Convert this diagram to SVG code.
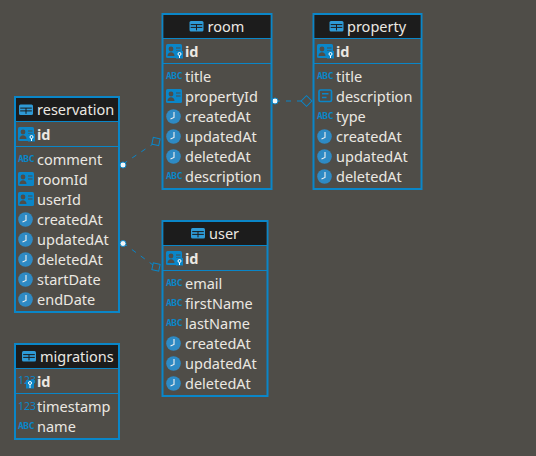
<svg xmlns="http://www.w3.org/2000/svg" xmlns:xlink="http://www.w3.org/1999/xlink" width="536" height="456" viewBox="0 0 536 456">
<style>
.box{fill:#4f4d48;stroke:#0a86c8;stroke-width:2}
.hd{fill:#1c1c1c}
.sep{stroke:#0a86c8;stroke-width:1;fill:none}
text{font-family:"Noto Sans","DejaVu Sans",sans-serif;font-size:14.5px;fill:#ebe8e2}
.b{font-weight:700}
.conn{stroke:#0a86c8;stroke-width:1;stroke-dasharray:5 6;fill:none}
.end{fill:none;stroke:#0a86c8;stroke-width:1}
.dot{fill:#f2f6f8;stroke:#0a86c8;stroke-width:1}
.ic{fill:#0a86c8}
text.num{font-size:10.5px;fill:#0a86c8}
text.abc{font-family:"DejaVu Sans Mono","Liberation Mono",monospace;font-size:9.5px;font-weight:700;fill:#0a86c8;letter-spacing:-0.4px}
</style>
<defs>
<g id="tbl"><rect x="0" y="0" width="14" height="10.5" rx="1.5" fill="#2e9ad6"/><path d="M1.2 3.6H12.8M7 3.6V9.3M1.2 6.4H12.8" stroke="#1c1c1c" stroke-width="1"/></g>
<g id="card"><rect x="0" y="0" width="16" height="14" rx="1.5" class="ic"/><circle cx="5" cy="5" r="2.4" fill="#4f4d48"/><path d="M1.5 12c0-5 7-5 7 0z" fill="#4f4d48"/><path d="M10 4H14.5M10 7H14.5" stroke="#4f4d48" stroke-width="1"/></g>
<g id="key"><use xlink:href="#card"/><rect x="10" y="7" width="7" height="7.5" fill="#0a86c8"/><circle cx="13.500" cy="10" r="1.5" fill="none" stroke="#fff" stroke-width="1"/><path d="M13.500 11.500V14" stroke="#fff"/></g>
<g id="clock"><circle cx="7.500" cy="7.500" r="7.300" fill="#2e8ac4"/><path d="M8 3V8.500L4.500 10" fill="none" stroke="#f0f0f0" stroke-width="1.100"/></g>
<g id="doc"><rect x="1" y="1" width="12.500" height="11.500" rx="1.500" fill="none" stroke="#0a86c8" stroke-width="1.700"/><path d="M4 4.800H10.500M4 8.600H8.500" stroke="#0a86c8" stroke-width="1.500"/></g>
</defs>
<rect width="536" height="456" fill="#4f4d48"/>

<g id="connectors">
<path class="conn" d="M123 164L153 144"/>
<rect class="end" x="-3.500" y="-3.500" width="7" height="7" transform="translate(156 141.500) rotate(12)"/>
<circle class="dot" cx="123" cy="165" r="3"/>
<path class="conn" d="M123 243L153 265"/>
<rect class="end" x="-3.500" y="-3.500" width="7" height="7" transform="translate(156 267) rotate(12)"/>
<circle class="dot" cx="123" cy="243.500" r="3"/>
<path class="conn" d="M275 101H302"/>
<rect class="end" x="-3.800" y="-3.800" width="7.600" height="7.600" transform="translate(306.500 101) rotate(45)"/>
<circle class="dot" cx="275" cy="101" r="3"/>
</g>

<g id="reservation">
<rect class="box" x="15" y="97" width="104" height="215"/>
<rect class="hd" x="16" y="98" width="102" height="23"/>
<path class="sep" d="M15 121.500H119M15 146.500H119"/>
<use xlink:href="#tbl" x="19" y="104.500"/><text x="37" y="115">reservation</text>
<use xlink:href="#key" x="18" y="127"/><text x="37" y="140" class="b">id</text>
<text x="18" y="162" class="abc">ABC</text><text x="37" y="165">comment</text>
<use xlink:href="#card" x="18" y="172"/><text x="37" y="185">roomId</text>
<use xlink:href="#card" x="18" y="192"/><text x="37" y="205">userId</text>
<use xlink:href="#clock" x="18" y="212"/><text x="37" y="225">createdAt</text>
<use xlink:href="#clock" x="18" y="232"/><text x="37" y="245">updatedAt</text>
<use xlink:href="#clock" x="18" y="252"/><text x="37" y="265">deletedAt</text>
<use xlink:href="#clock" x="18" y="272"/><text x="37" y="285">startDate</text>
<use xlink:href="#clock" x="18" y="292"/><text x="37" y="305">endDate</text>
</g>

<g id="room">
<rect class="box" x="162.500" y="14" width="109" height="175"/>
<rect class="hd" x="163.500" y="15" width="107" height="23"/>
<path class="sep" d="M162.500 38.500H271.500M162.500 63.500H271.500"/>
<use xlink:href="#tbl" x="189.500" y="21"/><text x="207.500" y="32">room</text>
<use xlink:href="#key" x="166" y="44"/><text x="185" y="57" class="b">id</text>
<text x="166" y="79" class="abc">ABC</text><text x="185" y="82">title</text>
<use xlink:href="#card" x="166" y="89"/><text x="185" y="102">propertyId</text>
<use xlink:href="#clock" x="166" y="109"/><text x="185" y="122">createdAt</text>
<use xlink:href="#clock" x="166" y="129"/><text x="185" y="142">updatedAt</text>
<use xlink:href="#clock" x="166" y="149"/><text x="185" y="162">deletedAt</text>
<text x="166" y="179" class="abc">ABC</text><text x="185" y="182">description</text>
</g>

<g id="property">
<rect class="box" x="313.500" y="14" width="108" height="175"/>
<rect class="hd" x="314.500" y="15" width="106" height="23"/>
<path class="sep" d="M313.500 38.500H421.500M313.500 63.500H421.500"/>
<use xlink:href="#tbl" x="329.500" y="21"/><text x="347" y="32">property</text>
<use xlink:href="#key" x="317" y="44"/><text x="336" y="57" class="b">id</text>
<text x="317" y="79" class="abc">ABC</text><text x="336" y="82">title</text>
<use xlink:href="#doc" x="318" y="89"/><text x="336" y="102">description</text>
<text x="317" y="119" class="abc">ABC</text><text x="336" y="122">type</text>
<use xlink:href="#clock" x="317" y="129"/><text x="336" y="142">createdAt</text>
<use xlink:href="#clock" x="317" y="149"/><text x="336" y="162">updatedAt</text>
<use xlink:href="#clock" x="317" y="169"/><text x="336" y="182">deletedAt</text>
</g>

<g id="user">
<rect class="box" x="162.500" y="221" width="105" height="175"/>
<rect class="hd" x="163.500" y="222" width="103" height="23"/>
<path class="sep" d="M162.500 245.500H267.500M162.500 270.500H267.500"/>
<use xlink:href="#tbl" x="191" y="228"/><text x="209" y="239">user</text>
<use xlink:href="#key" x="166" y="251"/><text x="185" y="264" class="b">id</text>
<text x="166" y="286" class="abc">ABC</text><text x="185" y="289">email</text>
<text x="166" y="306" class="abc">ABC</text><text x="185" y="309">firstName</text>
<text x="166" y="326" class="abc">ABC</text><text x="185" y="329">lastName</text>
<use xlink:href="#clock" x="166" y="336"/><text x="185" y="349">createdAt</text>
<use xlink:href="#clock" x="166" y="356"/><text x="185" y="369">updatedAt</text>
<use xlink:href="#clock" x="166" y="376"/><text x="185" y="389">deletedAt</text>
</g>

<g id="migrations">
<rect class="box" x="15" y="344" width="104" height="95"/>
<rect class="hd" x="16" y="345" width="102" height="23"/>
<path class="sep" d="M15 368.500H119M15 393.500H119"/>
<use xlink:href="#tbl" x="22" y="351"/><text x="40" y="362">migrations</text>
<text x="18" y="384" class="num">123</text><rect x="26" y="380" width="8" height="8.500" fill="#0a86c8"/><circle cx="30" cy="383" r="1.500" fill="none" stroke="#fff"/><path d="M30 384.500V388" stroke="#fff"/><text x="37" y="387" class="b">id</text>
<text x="18" y="410" class="num">123</text><text x="37" y="412">timestamp</text>
<text x="18" y="429" class="abc">ABC</text><text x="37" y="432">name</text>
</g>
</svg>
